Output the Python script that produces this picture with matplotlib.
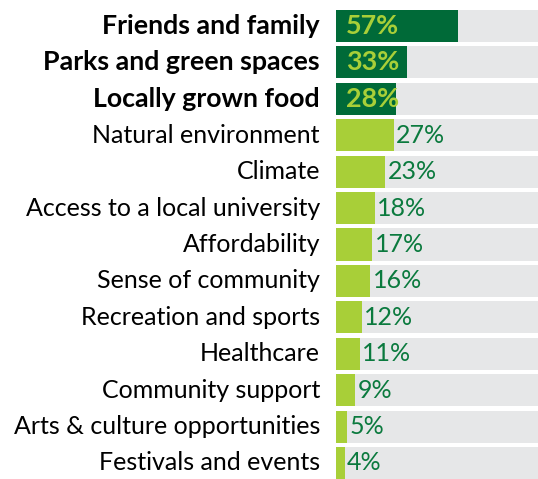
import matplotlib.pyplot as plt

categories = ["Friends and family", "Parks and green spaces", "Locally grown food",
              "Natural environment", "Climate", "Access to a local university",
              "Affordability", "Sense of community", "Recreation and sports",
              "Healthcare", "Community support", "Arts & culture opportunities",
              "Festivals and events"]
values = [57, 33, 28, 27, 23, 18, 17, 16, 12, 11, 9, 5, 4]
highlight = [True, True, True] + [False] * 10

dark = "#006a38"
light = "#a8cf38"
grey = "#e6e7e8"

plt.rcParams['font.family'] = ['Lato', 'DejaVu Sans']

fig = plt.figure(figsize=(5.38, 4.79), dpi=100)
ax = fig.add_axes([336 / 538, 0, 202 / 538, 469 / 479])

xmax = 94.4
ys = range(len(categories))
ax.barh(ys, [xmax] * len(values), height=0.88, color=grey, left=0)
for y, v, h in zip(ys, values, highlight):
    ax.barh(y, v, height=0.88, color=dark if h else light)
    if h:
        ax.text(4.5, y, f"{v}%", va="center", ha="left", color=light,
                fontsize=19.4, fontweight="bold")
    else:
        ax.text(v + 1.2, y, f"{v}%", va="center", ha="left", color="#0b7a3e",
                fontsize=18)
    ax.text(-7.5, y, categories[y], va="center", ha="right", color="black",
            fontsize=19.3 if h else 18, fontweight="bold" if h else "normal")

ax.set_xlim(0, xmax)
ax.set_ylim(12.44, -0.44)
ax.axis("off")

fig.savefig("out.png", dpi=100)
